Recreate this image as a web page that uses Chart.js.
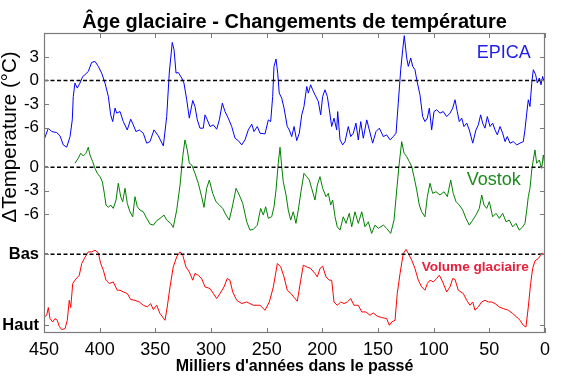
<!DOCTYPE html>
<html><head><meta charset="utf-8">
<script src="https://cdn.jsdelivr.net/npm/chart.js@4/dist/chart.umd.min.js"></script>
<style>html,body{margin:0;padding:0;background:#fff;} #wrap{width:564px;height:377px;position:relative;} canvas{display:block;}</style>
</head><body><div id="wrap"><canvas id="c" width="564" height="377" style="width:564px;height:377px"></canvas></div>
<script>
// ---------------- DATA ----------------
const epicaAge = [450,446.1,443.1,438.6,435.6,432.7,429.6,426.6,424.6,423.7,422.2,420.1,417.7,415.2,413.2,410.2,407.2,404.2,401.2,398.2,395.2,392.2,390.1,388.3,386.2,384.7,381.7,378.8,375.2,372.1,369.8,367.4,364.4,360.8,357.8,354.8,351.2,347.3,342.8,339.8,337.5,334.8,333.2,331.4,329.4,326.3,324.3,321.8,319.5,316.4,314.4,312.3,309.9,306.9,305.4,303.3,300.9,297.9,294.9,292.5,289.8,287.4,284.5,281.4,278.4,275.5,272.4,269.5,266.5,263.4,261.4,258.4,256,251.5,248.5,246.4,244.6,243.4,241.6,240.1,238.7,236.5,234.4,231.5,229.7,227.5,225.4,223,220.7,218.5,216.5,214,212.6,210.5,208.7,206.6,203.6,201.5,199.7,197.6,195.5,193.7,191.6,189.5,187.1,186.2,184.1,181.7,179.6,176.7,174.5,172.2,169.8,167.7,165.5,163.2,160.1,157.8,154.8,151.8,148.8,145.2,142.2,139.2,136.3,133.8,131.8,129.6,127.8,126.4,124.2,122.8,120.6,118.8,116.8,115.2,112.3,109.9,107.8,105.7,103.9,101.8,99.7,97.3,94.3,91.4,88.3,85.3,82.9,80.8,78.8,77,74.8,72.8,70.3,68,64.9,62,59.9,57.8,56,53.9,51.8,49.4,47,44.9,42.8,40.4,38,35.9,33.9,31.4,28.5,25.4,22.5,19.5,18,16.4,15,13.5,11.9,10.5,8.4,6.9,5.1,3.6,2.1,0.9];
const epicaTemp = [-7.57,-6.08,-6.51,-6.64,-7.06,-8.21,-8.5,-7.15,-5.02,-2.04,-0.33,-0.97,-0.33,0.51,0.73,1.15,2.3,2.43,1.79,0.94,-0.33,-2.04,-4.38,-5.24,-3.52,-4.16,-3.96,-5.24,-6.3,-4.93,-5.66,-6.51,-6.3,-6.72,-7.99,-7.79,-6.3,-7.06,-8.34,-4.6,0.94,4.85,3.92,0.94,1.02,0.31,-0.33,-2.46,-4.8,-2.55,-3.32,-5.02,-6.08,-6.08,-4.38,-5.02,-5.87,-5.66,-6.21,-5.02,-2.89,-3.96,-4.8,-5.87,-7.36,-7.66,-8.21,-7.57,-6.3,-5.57,-6.51,-5.87,-6.72,-6.81,-5.02,-5.24,-2.04,1.79,2.73,0.94,-1.61,-2.25,-3.52,-5.87,-6.3,-7.15,-5.87,-7.66,-6.72,-4.38,-3.32,-0.77,-1.61,-0.55,-1.19,-1.83,-2.68,-4.38,-2.04,-1.19,-2.04,-3.74,-5.87,-4.8,-6.3,-3.96,-7.57,-8.21,-7.79,-5.87,-7.15,-6.72,-5.44,-7.57,-5.24,-7.36,-5.02,-6.3,-7.99,-6.51,-6.08,-7.15,-6.93,-7.57,-7.15,-6.72,-2.89,1.37,3.92,5.71,2.86,1.79,2.86,1.79,1.37,0.09,-1.83,-4.6,-5.24,-4.8,-3.52,-6.3,-3.96,-3.74,-4.16,-3.96,-4.6,-4.16,-3.52,-2.46,-3.96,-5.24,-4.8,-5.87,-5.44,-6.3,-7.99,-6.3,-5.66,-4.38,-5.44,-6.08,-4.6,-5.87,-5.44,-6.3,-6.93,-5.87,-6.72,-7.79,-7.15,-7.99,-7.79,-8.21,-7.99,-7.79,-6.3,-4.16,-2.46,-3.32,-0.33,1.37,0.73,-0.33,0.31,-0.55,0.51,-0.13];

const vostokAge = [422.2,419.2,417,414.7,412.3,410.2,408.7,406.3,404.2,402.1,399.7,397.6,395.8,394.3,392.2,390.1,387.8,385.3,383.3,381.1,379.3,377.2,375.2,372.8,370.3,368.3,366.2,363.8,360.8,357.8,354.8,351.8,348.8,345.8,342.2,339.8,336.2,333.9,330.8,327.8,325.4,323.4,321.3,319.5,317.3,314.4,311.4,308.4,306.3,303.9,301.5,298.5,295.5,292.5,289.5,286.5,283.6,280.5,277.5,274.6,271.5,267.9,265,262,258.4,255.4,253,250.9,248.5,245.5,243.4,241.6,239.6,238,236.5,235.1,232.6,230.6,228.4,226.1,223.7,221.6,219.2,216.5,214,211.7,209.6,206.6,204.5,202.1,199.7,196.7,194.6,192.5,190.7,188.6,186.6,184.1,181.2,178.7,175.8,173.6,170.7,167.7,164.6,161.7,158.7,155.7,152.7,149.7,145.2,142.2,138.6,135.6,133.2,130.9,128.7,126.6,124.2,121.9,119.7,117.7,115.2,112.9,110.8,107.8,105.7,103.3,100.9,97.9,94.3,90.7,87.7,84.7,82.4,79.9,77,73.9,71,68,64.9,62,59,56.8,54.8,52.4,50,47,44,41,38,35,32.1,29,26.1,23.1,20,18,16.4,15,13.5,11.9,10.5,9,7.5,5.1,3,1.5,0.2];
const vostokTemp = [0.51,1.15,1.79,1.44,1.79,2.55,1.57,0.72,-0.13,-0.77,-1.2,-1.84,-3.32,-4.81,-5.11,-4.81,-5.24,-4.18,-2.04,-3.75,-4.39,-2.68,-4.6,-5.67,-6.31,-3.75,-5.03,-5.45,-5.67,-6.51,-7.24,-7.37,-6.82,-6.51,-6.09,-6.73,-7.15,-7.66,-5.45,-2.26,1.35,3.49,2.21,0.51,0.29,-0.77,-2.04,-3.75,-5.11,-2.68,-1.62,-3.32,-4.39,-4.81,-5.24,-6.09,-6.73,-4.81,-2.68,-3.54,-4.6,-6.95,-8.01,-7.92,-7.37,-5.24,-6.09,-5.03,-6.51,-6.31,-5.03,-2.9,0.51,2.55,0.08,-1.84,-3.54,-5.45,-6.73,-5.67,-7.15,-5.45,-3.12,-0.77,-1.2,-1.62,-2.68,-4.18,-2.26,-1.2,-2.68,-3.75,-3.32,-4.81,-4.18,-6.31,-7.59,-8.01,-6.31,-7.15,-5.87,-7.59,-5.67,-7.15,-5.67,-7.59,-6.95,-8.43,-7.37,-7.79,-7.37,-7.79,-8.43,-6.73,-2.9,0.51,3.27,1.79,1.35,0.72,0.08,-1.2,-2.9,-4.81,-5.67,-6.31,-3.75,-2.04,-3.32,-3.12,-3.54,-3.12,-3.75,-1.62,-3.32,-4.39,-4.81,-5.45,-6.51,-7.37,-6.73,-6.09,-5.24,-3.54,-4.81,-5.24,-4.39,-6.31,-5.87,-6.51,-5.87,-6.95,-6.73,-7.59,-7.15,-8.01,-7.59,-7.15,-5.45,-3.75,-2.68,-0.34,0.93,2.21,0.51,0.93,-0.13,1.57,0.29];

// ice volume on a relative scale: 0 = "Bas" (low), 100 = "Haut" (high)
const iceAge = [449.7,447.6,446.1,444.6,442.2,440.1,438.1,436.3,434.1,431.1,429.1,427.3,426,424.2,422.2,420.1,418.3,416.1,413.2,410.2,407.2,404.2,401.2,399.1,396.7,394.3,391.3,387.8,384.2,381.7,378.8,375.2,372.1,368.3,364.4,360.8,357.2,354.2,351.8,348.8,345.8,341.3,339.3,336.8,333.9,330.8,327.8,325.4,322.5,319.5,316.4,314.4,311.4,308.4,305.4,300.9,297.9,294.9,291.9,288.3,285.4,283,280.5,276.9,272.4,267.9,262,256,251.5,247.6,244,240.4,237.4,234.4,231.5,228.4,225.5,222.5,219.4,217.1,214,210.5,206.6,204.5,202.1,199.7,196.7,193.7,191.6,189.5,186.6,183.5,180.5,177.6,174.5,171.6,167.7,164.6,160.8,157.2,154.2,150.6,146.7,142.2,139.8,137.7,134.7,132.7,130.2,127.3,124.8,122.8,119.7,116.8,113.8,110.8,107.8,105.7,103.3,100.3,97.3,94.9,91.9,88.3,85.3,82.9,80.8,77.9,73.4,70.3,67.4,64.9,62.9,59.9,56.9,53.9,50.9,47.9,44.9,41.1,37.5,33,29,25.4,22.5,19.5,17.1,15,12.9,11.1,9,6,3.9,2.1,0.9];
const iceVolume = [88.3,85.9,75,90.5,95.3,90.5,92.9,101.4,106,104.6,92.9,64.8,75,41.3,36.6,32.8,29.6,13.1,4.6,-3.2,-3.2,-5.6,-1.8,13.1,22.5,36.6,41.3,39,50.7,50.7,53.1,55.3,63.8,64.8,67.2,71.8,74.2,69.4,77.9,71.8,83.5,92.9,74.2,46,17.9,3.8,-3.2,1.4,17.9,24.9,36.6,27.2,29.6,34.2,46,48.3,55.3,62.4,55.3,46,34.2,36.6,53.1,64.8,69.4,67.2,71.8,71.8,78.8,67.2,46,13.1,17.9,32,50.7,54.9,60.5,66.2,36.6,15.5,17.9,20.1,27.2,32,20.1,16.9,32,36.6,36.6,67.2,71.8,67.2,69.4,67.2,62.4,71.8,71.8,81.2,81.2,85.9,82.6,87.3,89.1,90.5,100,95.3,92.9,55.3,27.2,-1,-6.6,-1,8.4,20.1,36.6,46,50.7,41.3,36.6,39,34.2,29.6,39,53.1,46,34.2,35.6,50.7,55.3,64.8,71.8,67.2,78.8,74.2,67.2,64.8,67.2,67.2,69.4,74.2,76.5,78.8,83.5,88.3,92.9,100,102.4,74.2,41.3,20.1,9.4,6.1,1.4,-1.8,1.4];

const xTickValues = [450,400,350,300,250,200,150,100,50,0];
const epicaTickValues = [3,0,-3,-6];
const vostokTickValues = [0,-3,-6];
const iceTickValues = [0,100];
const iceTickLabels = ['Bas','Haut'];
const referenceLevel = 0;   // dashed reference line on each record

const titleText = 'Âge glaciaire - Changements de température';
const xTitleText = "Milliers d'années dans le passé";
const yTitleText = 'ΔTemperature (°C)';
const seriesNames = ['EPICA','Vostok','Volume glaciaire'];

// ---------------- LAYOUT / STYLE ----------------
const FONT = "'Liberation Sans', Arial, Helvetica, sans-serif";
const E_RANGE = {min:-32.18, max:6.05};
const V_RANGE = {min:-21.12, max:17.11};
const I_RANGE = {min:-310.8, max:110.8}; // reversed axis
const FRAME = '#7a7a7a';

function toEpicaUnits(v, r, reversed){
  let f = (v - r.min)/(r.max - r.min);
  if (reversed) f = 1 - f;
  return E_RANGE.min + f*(E_RANGE.max - E_RANGE.min);
}
const yTickList = [];
epicaTickValues.forEach(v => yTickList.push({value:v, label:String(v), bold:false}));
vostokTickValues.forEach(v => yTickList.push({value:toEpicaUnits(v, V_RANGE, false), label:String(v), bold:false}));
iceTickValues.forEach((v,i) => yTickList.push({value:toEpicaUnits(v, I_RANGE, true), label:iceTickLabels[i], bold:true}));
yTickList.sort((a,b)=>a.value-b.value);

const pts = (xs, ys) => xs.map((x,i)=>({x:x, y:ys[i]}));
const refLine = () => [{x:450,y:referenceLevel},{x:0,y:referenceLevel}];

const dashed = {borderColor:'#000', borderWidth:1.5, borderDash:[4,2.5], pointRadius:0, fill:false, order:0};

const decor = {
  id:'decor',
  afterDraw(chart){
    const {ctx, chartArea:{left,right,top,bottom}, scales} = chart;
    const x = scales.x, yE = scales.yE, yV = scales.yV, yI = scales.yI;
    ctx.save();
    ctx.strokeStyle = FRAME; ctx.lineWidth = 1.2;
    ctx.strokeRect(left+0.5, top+0.5, right-left-1, bottom-top-1);
    ctx.lineWidth = 1;
    ctx.beginPath();
    x.ticks.forEach(t => {
      const px = Math.round(x.getPixelForValue(t.value))+0.5;
      ctx.moveTo(px, bottom); ctx.lineTo(px, bottom-5);
      ctx.moveTo(px, top); ctx.lineTo(px, top+5);
    });
    yE.ticks.forEach(t => {
      const py = Math.round(yE.getPixelForValue(t.value))+0.5;
      ctx.moveTo(left, py); ctx.lineTo(left+5, py);
      ctx.moveTo(right, py); ctx.lineTo(right-5, py);
    });
    ctx.stroke();
    // series labels
    ctx.textAlign = 'center'; ctx.textBaseline = 'middle';
    ctx.font = '18px ' + FONT; ctx.fillStyle = '#1e1ee6';
    ctx.fillText(seriesNames[0], x.getPixelForValue(37.1), yE.getPixelForValue(3.5));
    ctx.fillStyle = '#1f8a1f';
    ctx.fillText(seriesNames[1], x.getPixelForValue(46.1), yV.getPixelForValue(-1.62));
    ctx.font = 'bold 13.6px ' + FONT; ctx.fillStyle = '#e8203c';
    ctx.fillText(seriesNames[2], x.getPixelForValue(62.7), yI.getPixelForValue(17.9));
    // y axis title
    ctx.save();
    ctx.translate(10, 137);
    ctx.rotate(-Math.PI/2);
    ctx.font = '20.5px ' + FONT; ctx.fillStyle = '#000';
    ctx.fillText(yTitleText, 0, 0);
    ctx.restore();
    ctx.restore();
  }
};

new Chart(document.getElementById('c'), {
  type:'line',
  data:{
    datasets:[
      Object.assign({label:'ref-epica', data:refLine(), yAxisID:'yE'}, dashed),
      Object.assign({label:'ref-vostok', data:refLine(), yAxisID:'yV'}, dashed),
      Object.assign({label:'ref-ice', data:refLine(), yAxisID:'yI'}, dashed),
      {label:seriesNames[0], data:pts(epicaAge, epicaTemp), yAxisID:'yE', borderColor:'#0000ff', borderWidth:1, pointRadius:0, tension:0, order:1},
      {label:seriesNames[1], data:pts(vostokAge, vostokTemp), yAxisID:'yV', borderColor:'#008000', borderWidth:1, pointRadius:0, tension:0, order:1},
      {label:seriesNames[2], data:pts(iceAge, iceVolume), yAxisID:'yI', borderColor:'#ff0000', borderWidth:1, pointRadius:0, tension:0, order:1}
    ]
  },
  options:{
    responsive:false, animation:false, maintainAspectRatio:false, devicePixelRatio:1,
    layout:{padding:{left:0, right:19, top:0, bottom:0}},
    plugins:{
      legend:{display:false}, tooltip:{enabled:false},
      title:{display:true, text:titleText, fullSize:false, color:'#000',
        font:{family:FONT, size:20, weight:'bold', lineHeight:1}, padding:{top:12, bottom:1}}
    },
    scales:{
      x:{type:'linear', reverse:true, min:0, max:450, position:'bottom',
        afterFit: s => { s.height = 44; },
        afterBuildTicks: s => { s.ticks = xTickValues.map(v=>({value:v})); },
        grid:{display:false, drawTicks:false}, border:{display:false},
        ticks:{color:'#000', font:{family:FONT, size:18}, padding:6, autoSkip:false, maxRotation:0},
        title:{display:true, text:xTitleText, color:'#000', font:{family:FONT, size:16, weight:'bold'}, padding:{top:0,bottom:1}}
      },
      yE:{type:'linear', position:'left', min:E_RANGE.min, max:E_RANGE.max,
        afterFit: s => { s.width = 44; },
        afterBuildTicks: s => { s.ticks = yTickList.map(t=>({value:t.value})); },
        grid:{display:false, drawTicks:false}, border:{display:false},
        ticks:{color:'#000', padding:5, autoSkip:false,
          callback:(v,i)=> yTickList[i] ? yTickList[i].label : '',
          font:(c)=> { const t = yTickList[c.index]; return (t && t.bold) ? {family:FONT, size:16.5, weight:'bold'} : {family:FONT, size:17}; }
        }
      },
      yV:{type:'linear', display:false, min:V_RANGE.min, max:V_RANGE.max},
      yI:{type:'linear', display:false, reverse:true, min:I_RANGE.min, max:I_RANGE.max}
    }
  },
  plugins:[decor]
});
</script></body></html>
